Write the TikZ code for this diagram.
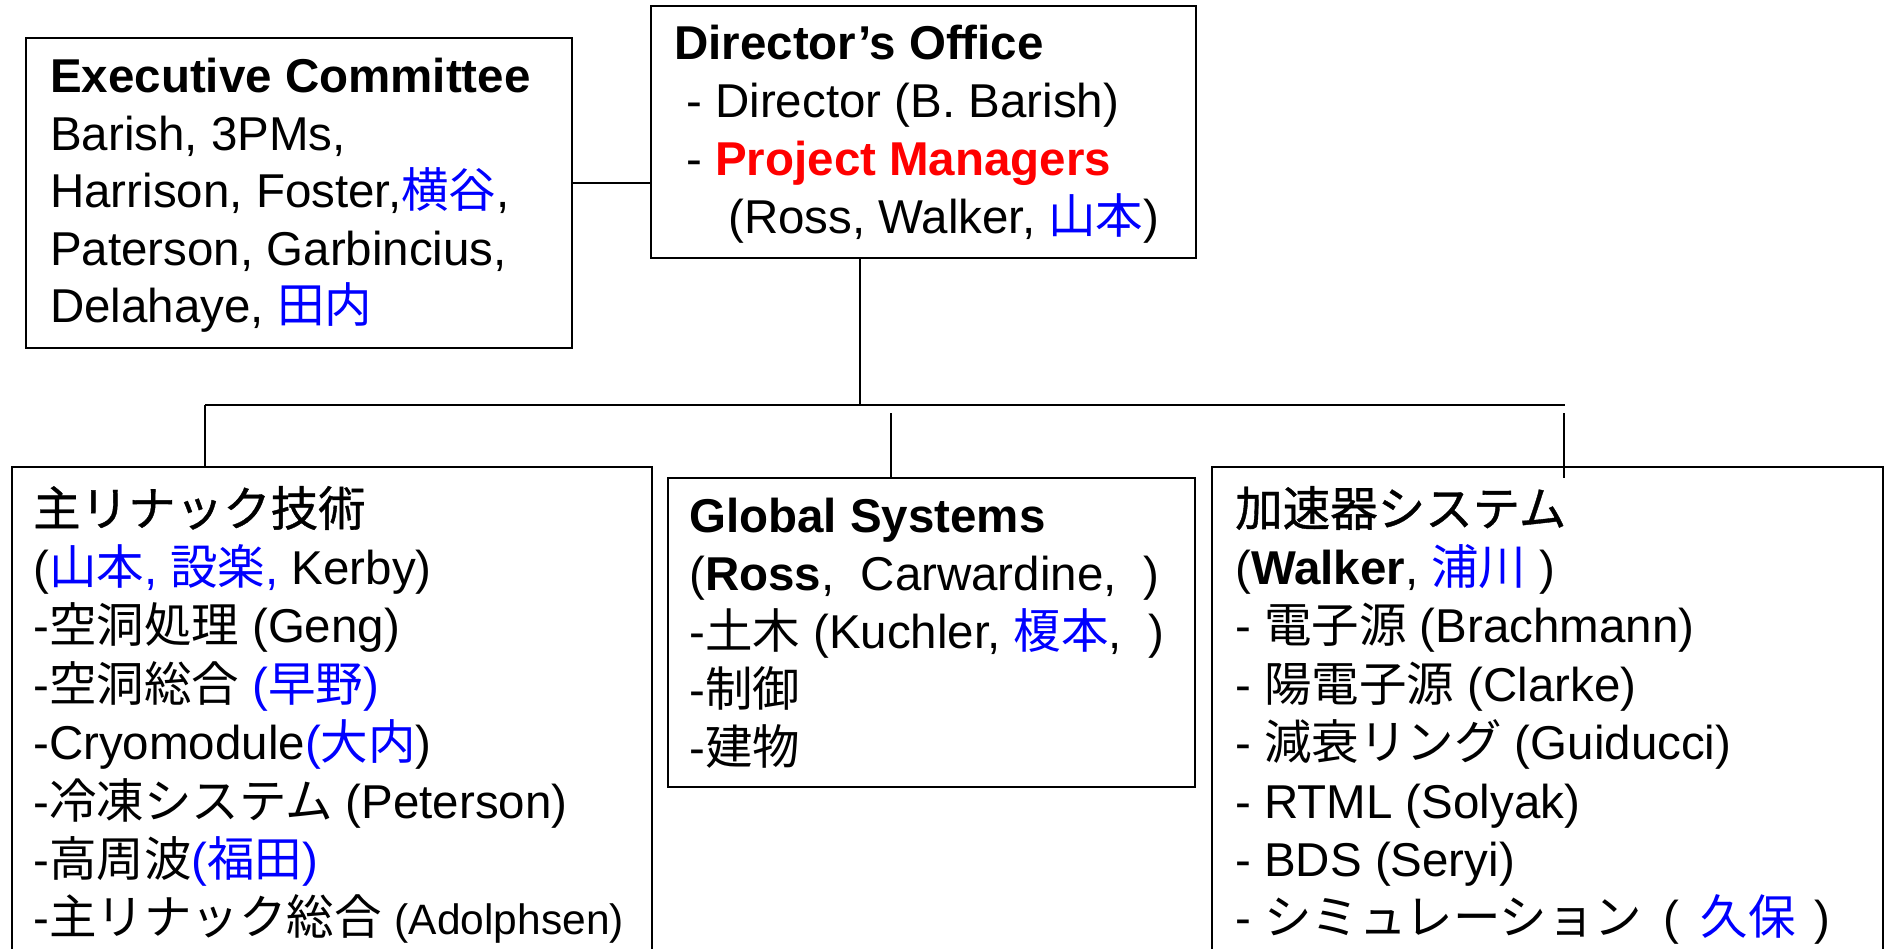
\documentclass[tikz,border=0pt]{standalone}
\usepackage{fontspec}
\setmainfont{Liberation Sans}
\newfontfamily\jpfont{Noto Sans CJK JP}
\newfontfamily\jpbold[FakeBold=0.8]{Noto Sans CJK JP}
\newcommand\jpt[1]{{\jpfont #1}}
\newcommand\jpb[1]{{\jpbold #1}}
\newcommand\blu[1]{\textcolor{blue}{#1}}
\newcommand\myfs{\fontsize{47.5}{58}\selectfont}
\newcommand\smfs{\fontsize{42.5}{58}\selectfont}
\begin{document}
\begin{tikzpicture}[x=1pt,y=-1pt,
  box/.style={draw, line width=2pt, rectangle, inner sep=0pt, outer sep=0pt, anchor=north west},
  ln/.style={anchor=base west, inner sep=0pt, font=\myfs},
  wire/.style={line width=1.8pt}]
\useasboundingbox (0,0) rectangle (1887,949);
\fill[white] (0,0) rectangle (1887,949);
\clip (0,0) rectangle (1887,949);

% boxes
\node[box, minimum width=546pt, minimum height=310pt] (exec) at (26,38) {};
\node[box, minimum width=545pt, minimum height=252pt] (dir) at (651,6) {};
\node[box, minimum width=640pt, minimum height=540pt] (lin) at (12,467) {};
\node[box, minimum width=527pt, minimum height=309pt] (glob) at (668,478) {};
\node[box, minimum width=671pt, minimum height=540pt] (acc) at (1212,467) {};

% connectors
\coordinate (ed) at (0,183);
\draw[wire] (exec.east |- ed) -- (dir.west |- ed);
\coordinate (dbot) at (860,405);
\draw[wire] (dir.south -| dbot) -- (dbot);
\coordinate (hl) at (205,405);
\coordinate (hr) at (1565,405);
\draw[wire] (hl) -- (hr);
\draw[wire] (hl) -- (lin.north -| hl);
\coordinate (mt) at (891,413);
\draw[wire] (mt) -- (glob.north -| mt);
\coordinate (rt) at (1564,413);
\coordinate (rb) at (1564,478);
\draw[wire] (rt) -- (rb);

% Executive Committee
\node[ln] (e1) at (50,93) {\bfseries Executive Committee};
\node[ln] (e2) at (50,150.5) {Barish, 3PMs,};
\node[ln] (e3) at (50,208) {Harrison, Foster,\blu{\jpt{横谷}},};
\node[ln] (e4) at (50,265.5) {Paterson, Garbincius,};
\node[ln] (e5) at (50,323) {Delahaye, \blu{\jpt{田内}}};

% Director's Office
\node[ln] (d1) at (674,60) {\bfseries Director’s Office};
\node[ln] (d2) at (686,118) {- Director (B. Barish)};
\node[ln] (d3) at (686,176) {- \textcolor{red}{\bfseries Project Managers}};
\node[ln] (d4) at (728,234) {(Ross, Walker, \blu{\jpt{山本}})};

% Main linac
\node[ln] (l1) at (33,526) {\jpb{主リナック技術}};
\node[ln] (l2) at (33,584.4) {(\blu{\jpt{山本}, \jpt{設楽},} Kerby)};
\node[ln] (l3) at (33,642.8) {-\jpt{空洞処理} (Geng)};
\node[ln] (l4) at (33,701.2) {-\jpt{空洞総合} \blu{(\jpt{早野})}};
\node[ln] (l5) at (33,759.6) {-Cryomodule\blu{(\jpt{大内}})};
\node[ln] (l6) at (33,818) {-\jpt{冷凍システム} (Peterson)};
\node[ln] (l7) at (33,876.4) {-\jpt{高周波}\blu{(\jpt{福田})}};
\node[ln] (l8) at (33,934.8) {-\jpt{主リナック総合} {\smfs (Adolphsen)}};

% Global Systems
\node[ln] (g1) at (689,532) {\bfseries Global Systems};
\node[ln] (g2) at (689,590) {(\textbf{Ross}, \ Carwardine, \ )};
\node[ln] (g3) at (689,648) {-\jpt{土木} (Kuchler, \blu{\jpt{榎本}}, \ )};
\node[ln] (g4) at (689,706) {-\jpt{制御}};
\node[ln] (g5) at (689,764) {-\jpt{建物}};

% Accelerator systems
\node[ln] (a1) at (1235,526) {\jpb{加速器システム}};
\node[ln] (a2) at (1235,584.4) {(\textbf{Walker}, \blu{\jpt{浦川}} )};
\node[ln] (a3) at (1235,642.8) {- \jpt{電子源} (Brachmann)};
\node[ln] (a4) at (1235,701.2) {- \jpt{陽電子源} (Clarke)};
\node[ln] (a5) at (1235,759.6) {- \jpt{減衰リング} (Guiducci)};
\node[ln] (a6) at (1235,818) {- RTML (Solyak)};
\node[ln] (a7) at (1235,876.4) {- BDS (Seryi)};
\node[ln] (a8) at (1235,934.8) {- \jpt{シミュレーション}\hspace{8pt} (\hspace{8pt} \blu{\jpt{久保}}\hspace{6pt} )};
\end{tikzpicture}
\end{document}
